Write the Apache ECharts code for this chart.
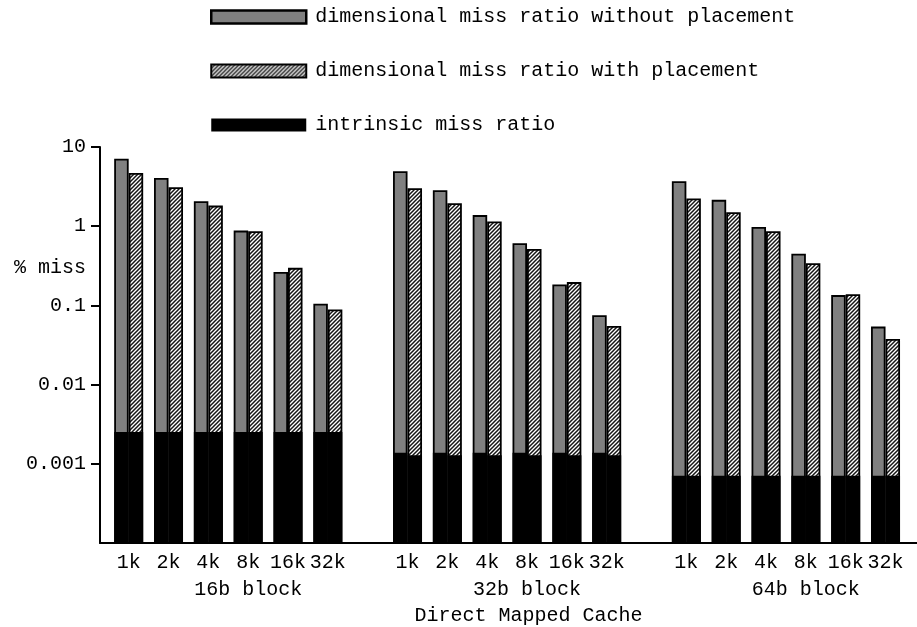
<!DOCTYPE html>
<html>
<head>
<meta charset="utf-8">
<script src="https://cdn.jsdelivr.net/npm/echarts@6/dist/echarts.min.js"></script>
<style>
  html, body { margin: 0; padding: 0; background: #fff; }
  #chart { width: 917px; height: 627px; }
</style>
</head>
<body>
<div id="chart"></div>
<script>
// Cache sizes along the x axis, grouped by block size
const cacheSizes = ['1k', '2k', '4k', '8k', '16k', '32k'];
const blockSizes = ['16b block', '32b block', '64b block'];
const yTickLabels = ['10', '1', '0.1', '0.01', '0.001'];

// Miss ratio (%) without placement, per block size
const noPlacement16 = [7.1, 4.06, 2.07, 0.88, 0.265, 0.105];
const noPlacement32 = [4.94, 2.84, 1.38, 0.61, 0.184, 0.075];
const noPlacement64 = [3.69, 2.15, 0.98, 0.448, 0.135, 0.054];

// Miss ratio (%) with placement, per block size
const withPlacement16 = [4.7, 3.1, 1.82, 0.865, 0.298, 0.089];
const withPlacement32 = [3.01, 1.95, 1.15, 0.517, 0.197, 0.055];
const withPlacement64 = [2.24, 1.5, 0.865, 0.341, 0.138, 0.0376];

// Intrinsic miss ratio (%), per block size (under each bar of the pair)
const intrinsicNoPlacement = [0.00252, 0.00138, 0.000704];
const intrinsicWithPlacement = [0.00252, 0.00128, 0.000704];

const FONT = '"Liberation Mono", "Courier New", monospace';
const FS = 20;
const NAME_NO = 'dimensional miss ratio without placement';
const NAME_WITH = 'dimensional miss ratio with placement';
const NAME_INTR = 'intrinsic miss ratio';

// one empty slot between block groups
const groupStride = cacheSizes.length + 1;
const slotOf = (g, k) => g * groupStride + k;

const noPlacement = [noPlacement16, noPlacement32, noPlacement64];
const withPlacement = [withPlacement16, withPlacement32, withPlacement64];

function pairs(perGroup) {
  const out = [];
  perGroup.forEach((vals, g) => vals.forEach((v, k) => out.push([slotOf(g, k), v])));
  return out;
}
function flatPairs(perBlock) {
  const out = [];
  perBlock.forEach((v, g) => cacheSizes.forEach((_, k) => out.push([slotOf(g, k), v])));
  return out;
}

const slots = [];
blockSizes.forEach((_, g) => cacheSizes.forEach((_, k) => slots.push(slotOf(g, k))));
const blockLabelSlots = blockSizes.map((_, g) => slotOf(g, 3));
const yTickValues = yTickLabels.map(Number);

// diagonal hatch fill
function hatch() {
  const s = 4;
  const c = document.createElement('canvas');
  c.width = s; c.height = s;
  const ctx = c.getContext('2d');
  ctx.fillStyle = '#fff';
  ctx.fillRect(0, 0, s, s);
  ctx.strokeStyle = '#161616';
  ctx.lineWidth = 1.5;
  ctx.beginPath();
  ctx.moveTo(-1, s + 1); ctx.lineTo(s + 1, -1);
  ctx.moveTo(-1, 1); ctx.lineTo(1, -1);
  ctx.moveTo(s - 1, s + 1); ctx.lineTo(s + 1, s - 1);
  ctx.stroke();
  return c;
}
const hatchFill = { image: hatch(), repeat: 'repeat' };

const xMin = -0.72, xMax = 19.79;
const textBase = { fontFamily: FONT, fontSize: FS, color: '#000' };

const chart = echarts.init(document.getElementById('chart'), null, { renderer: 'canvas' });
chart.setOption({
  animation: false,
  backgroundColor: '#fff',
  grid: { left: 100, right: 0, top: 147, bottom: 84, containLabel: false, outerBoundsMode: 'none' },
  legend: {
    orient: 'vertical',
    left: 210,
    top: 7,
    padding: 0,
    itemWidth: 95,
    itemHeight: 13,
    itemGap: 34,
    icon: 'rect',
    selectedMode: false,
    textStyle: Object.assign({ lineHeight: 20, padding: [0, 0, 0, 4] }, textBase),
    data: [
      { name: NAME_NO, itemStyle: { borderWidth: 2.5, borderColor: '#000' } },
      { name: NAME_WITH, itemStyle: { borderWidth: 2, borderColor: '#000' } },
      { name: NAME_INTR }
    ]
  },
  xAxis: [
    {
      type: 'value', min: xMin, max: xMax, position: 'bottom',
      axisLine: { show: true, onZero: false, lineStyle: { color: '#000', width: 2 } },
      axisTick: { show: false },
      splitLine: { show: false },
      axisLabel: Object.assign({
        customValues: slots,
        margin: 10,
        formatter: v => cacheSizes[Math.round(v) % groupStride]
      }, textBase),
      name: 'Direct Mapped Cache',
      nameLocation: 'middle',
      nameGap: 63,
      nameTextStyle: Object.assign({ padding: [0, 0, 0, 40] }, textBase)
    },
    {
      type: 'value', min: xMin, max: xMax, position: 'bottom',
      axisLine: { show: false },
      axisTick: { show: false },
      splitLine: { show: false },
      axisLabel: Object.assign({
        customValues: blockLabelSlots,
        margin: 37,
        formatter: v => blockSizes[Math.floor(Math.round(v) / groupStride)]
      }, textBase)
    }
  ],
  yAxis: {
    type: 'log', logBase: 10, min: 0.0001, max: 10, startValue: 0.0001,
    axisLine: { show: true, onZero: false, lineStyle: { color: '#000', width: 2 } },
    axisTick: { show: true, customValues: yTickValues, length: 9, lineStyle: { color: '#000', width: 2 } },
    splitLine: { show: false },
    axisLabel: Object.assign({
      customValues: yTickValues,
      margin: 14,
      formatter: v => {
        const i = Math.round(-Math.log10(v)) + 1;
        return yTickLabels[i] !== undefined ? yTickLabels[i] : '';
      }
    }, textBase)
  },
  graphic: [
    {
      type: 'text', x: 86, y: 268,
      style: { text: '% miss', font: FS + 'px ' + FONT, fill: '#000', textAlign: 'right', textVerticalAlign: 'middle' }
    }
  ],
  series: [
    {
      name: NAME_NO, type: 'bar', xAxisIndex: 0, barWidth: 14.5, barGap: '0%', z: 2,
      itemStyle: { color: '#808080', borderColor: '#000', borderWidth: 1.8 },
      emphasis: { disabled: true },
      data: pairs(noPlacement)
    },
    {
      name: NAME_WITH, type: 'bar', xAxisIndex: 0, barWidth: 14.5, barGap: '0%', z: 2,
      itemStyle: { color: hatchFill, borderColor: '#000', borderWidth: 1.8 },
      emphasis: { disabled: true },
      data: pairs(withPlacement)
    },
    {
      name: NAME_INTR, type: 'bar', xAxisIndex: 1, barWidth: 14.5, barGap: '0%', z: 4,
      itemStyle: { color: '#000' },
      emphasis: { disabled: true },
      data: flatPairs(intrinsicNoPlacement)
    },
    {
      name: NAME_INTR, type: 'bar', xAxisIndex: 1, barWidth: 14.5, barGap: '0%', z: 4,
      itemStyle: { color: '#000' },
      emphasis: { disabled: true },
      data: flatPairs(intrinsicWithPlacement)
    }
  ]
});
</script>
</body>
</html>
